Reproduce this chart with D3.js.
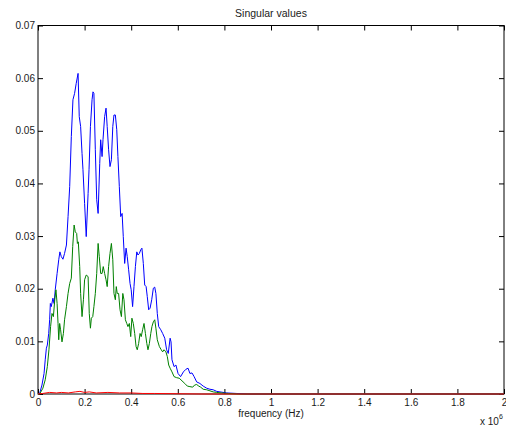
<!DOCTYPE html>
<html>
<head>
<meta charset="utf-8">
<script src="https://cdn.jsdelivr.net/npm/d3@7"></script>
<style>
  body { margin: 0; background: #fff; }
  svg text { font-family: "Liberation Sans", Arial, Helvetica, sans-serif; fill: #1a1a1a; }
</style>
</head>
<body>
<div id="chart"></div>
<script>

/******************************************************************************/
/*  Data  (frequency in units of 1e6 Hz, singular value)                      */
/******************************************************************************/

var xTicks = [0, 0.2, 0.4, 0.6, 0.8, 1, 1.2, 1.4, 1.6, 1.8, 2];
var yTicks = [0, 0.01, 0.02, 0.03, 0.04, 0.05, 0.06, 0.07];

// first singular value
var sv1 = [[0,0],[0.007,0.0001],[0.017,0.0017],[0.026,0.0039],[0.031,0.0065],[0.036,0.0087],[0.040,0.0093],
  [0.046,0.0115],[0.050,0.0141],[0.053,0.0172],[0.057,0.0166],[0.064,0.0182],[0.069,0.0172],[0.074,0.0198],
  [0.082,0.0229],[0.089,0.0255],[0.094,0.0270],[0.100,0.0261],[0.107,0.0256],[0.114,0.0267],[0.122,0.0283],
  [0.129,0.0337],[0.136,0.0394],[0.143,0.0489],[0.150,0.0559],[0.157,0.0571],[0.164,0.0590],[0.172,0.0609],
  [0.177,0.0527],[0.183,0.0508],[0.189,0.0457],[0.193,0.0426],[0.200,0.0362],[0.207,0.0299],[0.215,0.0381],
  [0.219,0.0426],[0.225,0.0508],[0.232,0.0559],[0.236,0.0574],[0.240,0.0571],[0.246,0.0464],[0.252,0.0369],
  [0.258,0.0343],[0.265,0.0438],[0.269,0.0483],[0.275,0.0451],[0.279,0.0483],[0.286,0.0527],[0.292,0.0543],
  [0.297,0.0508],[0.303,0.0464],[0.309,0.0432],[0.315,0.0445],[0.321,0.0508],[0.326,0.0530],[0.332,0.0530],
  [0.338,0.0502],[0.343,0.0451],[0.349,0.0394],[0.355,0.0337],[0.361,0.0343],[0.366,0.0299],[0.372,0.0248],
  [0.378,0.0277],[0.383,0.0261],[0.389,0.0236],[0.395,0.0210],[0.400,0.0198],[0.406,0.0166],[0.412,0.0204],
  [0.418,0.0242],[0.424,0.0270],[0.429,0.0264],[0.435,0.0267],[0.441,0.0274],[0.446,0.0277],[0.452,0.0248],
  [0.458,0.0207],[0.464,0.0204],[0.469,0.0185],[0.475,0.0160],[0.481,0.0163],[0.488,0.0179],[0.495,0.0201],
  [0.501,0.0203],[0.506,0.0191],[0.512,0.0153],[0.518,0.0128],[0.527,0.0122],[0.535,0.0115],[0.544,0.0106],
  [0.552,0.0084],[0.559,0.0077],[0.567,0.0106],[0.571,0.0099],[0.575,0.0065],[0.584,0.0052],[0.592,0.0055],
  [0.601,0.0039],[0.612,0.0033],[0.624,0.0042],[0.635,0.0047],[0.644,0.0049],[0.652,0.0039],[0.661,0.0040],
  [0.670,0.0033],[0.681,0.0023],[0.695,0.0020],[0.709,0.0015],[0.724,0.0011],[0.738,0.0009],[0.752,0.0008],
  [0.767,0.0005],[0.781,0.0004],[0.810,0.0002],[0.853,0.0001],[0.9,0],[2,0]];

// second singular value
var sv2 = [[0,0],[0.007,0],[0.021,0.0011],[0.031,0.0027],[0.040,0.0052],[0.047,0.0084],[0.054,0.0128],
  [0.060,0.0153],[0.066,0.0147],[0.072,0.0179],[0.077,0.0198],[0.082,0.0172],[0.086,0.0134],[0.089,0.0103],
  [0.093,0.0134],[0.097,0.0122],[0.103,0.0099],[0.109,0.0115],[0.114,0.0141],[0.122,0.0166],[0.129,0.0191],
  [0.136,0.0210],[0.143,0.0220],[0.149,0.0280],[0.155,0.0321],[0.160,0.0308],[0.166,0.0305],[0.169,0.0286],
  [0.173,0.0289],[0.179,0.0242],[0.183,0.0191],[0.189,0.0147],[0.195,0.0179],[0.200,0.0217],[0.207,0.0226],
  [0.215,0.0223],[0.220,0.0153],[0.225,0.0125],[0.229,0.0144],[0.235,0.0147],[0.240,0.0166],[0.246,0.0191],
  [0.252,0.0229],[0.258,0.0286],[0.263,0.0261],[0.269,0.0229],[0.275,0.0229],[0.280,0.0242],[0.286,0.0229],
  [0.292,0.0217],[0.297,0.0204],[0.303,0.0242],[0.309,0.0267],[0.315,0.0286],[0.321,0.0255],[0.326,0.0191],
  [0.332,0.0179],[0.336,0.0204],[0.340,0.0191],[0.346,0.0191],[0.352,0.0160],[0.358,0.0147],[0.364,0.0191],
  [0.369,0.0179],[0.375,0.0141],[0.381,0.0134],[0.386,0.0128],[0.392,0.0134],[0.398,0.0109],[0.403,0.0144],
  [0.409,0.0134],[0.415,0.0115],[0.421,0.0090],[0.426,0.0084],[0.432,0.0096],[0.438,0.0115],[0.443,0.0109],
  [0.449,0.0122],[0.455,0.0134],[0.461,0.0115],[0.467,0.0096],[0.472,0.0084],[0.478,0.0096],[0.484,0.0115],
  [0.489,0.0128],[0.495,0.0137],[0.501,0.0141],[0.506,0.0125],[0.512,0.0103],[0.521,0.0090],[0.529,0.0084],
  [0.535,0.0080],[0.541,0.0084],[0.549,0.0080],[0.555,0.0071],[0.561,0.0055],[0.567,0.0049],[0.575,0.0042],
  [0.584,0.0033],[0.595,0.0031],[0.606,0.0030],[0.618,0.0025],[0.630,0.0020],[0.641,0.0015],[0.652,0.0014],
  [0.664,0.0013],[0.672,0.0017],[0.681,0.0018],[0.690,0.0015],[0.698,0.0013],[0.709,0.0009],[0.724,0.0008],
  [0.738,0.0006],[0.752,0.0004],[0.767,0.0003],[0.788,0.0002],[0.817,0.0001],[0.86,0],[2,0]];

// third singular value (almost zero)
var sv3 = [[0,0],[0.02,0.0001],[0.05,0.0003],[0.08,0.0002],[0.10,0.0003],[0.13,0.0002],[0.16,0.0004],
  [0.18,0.0005],[0.20,0.0003],[0.22,0.0004],[0.25,0.0002],[0.30,0.0003],[0.35,0.0002],[0.40,0.0002],
  [0.45,0.0001],[0.50,0.0001],[0.60,0.00005],[0.70,0],[2,0]];

var series = [
  { name: 'sv1', pts: sv1, color: '#0000ff' },
  { name: 'sv2', pts: sv2, color: '#008000' },
  { name: 'sv3', pts: sv3, color: '#ff0000' }
];


/******************************************************************************/
/*  Chart                                                                     */
/******************************************************************************/

var W = 506, H = 428;
var m = { top: 25.5, right: 2, bottom: 34, left: 38 };
var pw = W - m.left - m.right,
    ph = H - m.top - m.bottom;

var svg = d3.select('#chart').append('svg')
    .attr('width', W)
    .attr('height', H);

var x = d3.scaleLinear().domain([0, 2]).range([0, pw]);
var y = d3.scaleLinear().domain([0, 0.07]).range([ph, 0]);

var g = svg.append('g').attr('transform', 'translate(' + m.left + ',' + m.top + ')');

var fmt = d3.format('~g');

// axes, ticks pointing inward
function styleAxis(sel, hideText){
  sel.selectAll('.domain').remove();
  sel.selectAll('line').attr('stroke', '#000');
  sel.selectAll('text').attr('font-size', 10).attr('fill', '#1a1a1a');
  if (hideText) sel.selectAll('text').remove();
}

g.append('g').attr('transform', 'translate(0,' + ph + ')')
  .call(d3.axisBottom(x).tickValues(xTicks).tickFormat(fmt).tickSize(-5).tickPadding(5))
  .call(styleAxis, false);
g.append('g')
  .call(d3.axisTop(x).tickValues(xTicks).tickSize(-5))
  .call(styleAxis, true);
g.append('g')
  .call(d3.axisLeft(y).tickValues(yTicks).tickFormat(fmt).tickSize(-5).tickPadding(3))
  .call(styleAxis, false);
g.append('g').attr('transform', 'translate(' + pw + ',0)')
  .call(d3.axisRight(y).tickValues(yTicks).tickSize(-5))
  .call(styleAxis, true);

// box
g.append('rect')
  .attr('x', 0).attr('y', 0)
  .attr('width', pw).attr('height', ph)
  .attr('fill', 'none')
  .attr('stroke', '#000')
  .attr('stroke-width', 1);

// lines
var line = d3.line()
  .x(function(d){ return x(d[0]); })
  .y(function(d){ return y(d[1]); });

g.selectAll('path.sv').data(series)
  .enter().append('path')
    .attr('class', 'sv')
    .attr('d', function(d){ return line(d.pts); })
    .attr('fill', 'none')
    .attr('stroke', function(d){ return d.color; })
    .attr('stroke-width', 1);

// texts
svg.append('text')
  .attr('x', m.left + pw / 2).attr('y', 17)
  .attr('text-anchor', 'middle')
  .attr('font-size', 10.5)
  .text('Singular values');

svg.append('text')
  .attr('x', m.left + pw / 2).attr('y', 417)
  .attr('text-anchor', 'middle')
  .attr('font-size', 10)
  .text('frequency (Hz)');

var exp = svg.append('text')
  .attr('x', 480).attr('y', 425)
  .attr('font-size', 10);
exp.append('tspan').text('x 10');
exp.append('tspan').attr('font-size', 7).attr('dy', -6).text('6');

</script>
</body>
</html>
